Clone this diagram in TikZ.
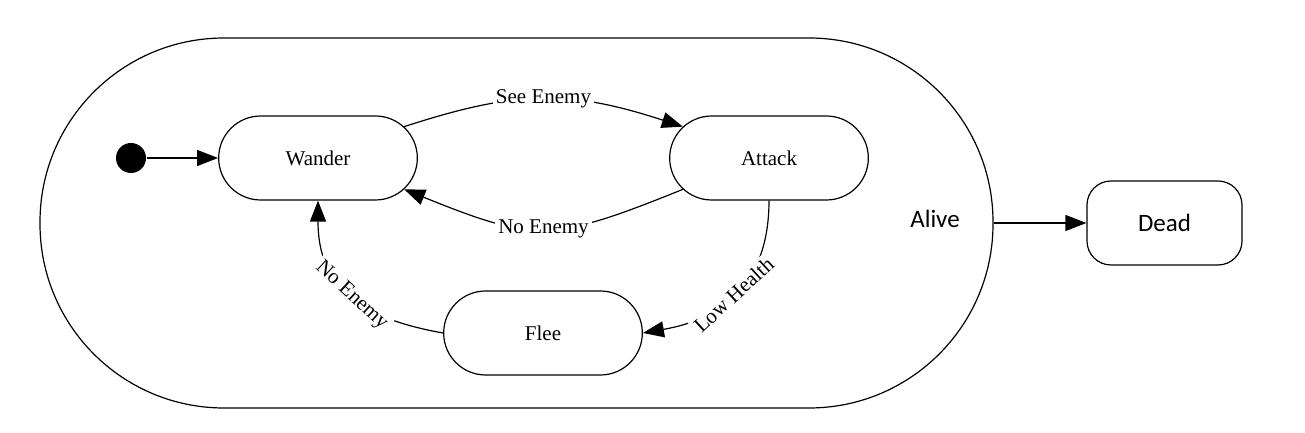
\documentclass[tikz,border=0pt]{standalone}
\usepackage{fontspec}
\setmainfont{Liberation Serif}
\newfontfamily\calibrifont{Carlito}
\usetikzlibrary{arrows.meta,shapes.misc}

\begin{document}
\begin{tikzpicture}[x=0.5pt,y=0.5pt,line width=0.6pt,font=\fontsize{10.5}{12}\selectfont,
    >={Triangle[length=10.5pt,width=8pt]}]
    \useasboundingbox (0,0) rectangle (1305,433);

        \begin{scope}[every node/.style={rounded rectangle,draw,minimum width=106pt,minimum height=42pt}]
            \node (wander) at (318,275) {Wander};
            \node (attack) at (769,275) {Attack};
            \node (flee) at (543,100) {Flee};
        \end{scope}

        \node[circle,fill,inner sep=0,minimum size=15pt] (init) at (131,275) {};
        \node[draw,rounded corners=92pt,minimum width=476.5pt,minimum height=185pt] (alive) at (516.5,210) {};
        \node[font=\calibrifont\fontsize{12.5}{14}\selectfont] (alivelabel) at (935,214) {Alive};
        \node[draw,rounded corners=12pt,minimum width=77.5pt,minimum height=42pt,
              font=\calibrifont\fontsize{12.5}{14}\selectfont] (dead) at (1164.5,210) {Dead};

        \begin{scope}[every node/.style={fill=white,inner sep=1.5pt}, every edge/.style={draw,line width=0.6pt}]
            \path [->] (init) edge (wander);

            \path [->] (wander.20) edge [bend left=18, looseness=1.1] node {See Enemy} (attack.160);
            \path [->] (attack.200) edge [bend left=22, looseness=1.3] node {No Enemy} (wander.340);

            \path [->] (attack.south) edge [out=-90, in=10, looseness=1.15] node [sloped, pos=0.52] {Low Health} (flee.east);
            \path [->] (flee.west) edge [out=170, in=-90, looseness=1.2] node [sloped, pos=0.48] {No Enemy} (wander.south);

            \path [->] (alive) edge (dead);
        \end{scope}

\end{tikzpicture}
\end{document}
